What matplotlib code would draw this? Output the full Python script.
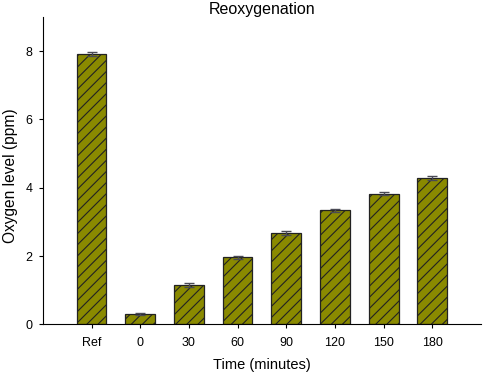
import matplotlib
matplotlib.use("Agg")
import matplotlib.pyplot as plt

categories = ["Ref", "0", "30", "60", "90", "120", "150", "180"]
values = [7.92, 0.30, 1.15, 1.96, 2.68, 3.34, 3.83, 4.29]
errors = [0.05, 0.02, 0.05, 0.04, 0.05, 0.04, 0.04, 0.06]

plt.rcParams['font.family'] = ['Liberation Sans', 'DejaVu Sans']
plt.rcParams['hatch.linewidth'] = 0.8

fig = plt.figure(figsize=(4.84, 3.77), dpi=100)
ax = fig.add_axes([0.0888, 0.1398, 0.905, 0.815])

x = list(range(len(categories)))
ax.bar(x, values, width=0.61, color="#8a8a00", edgecolor="#222222",
       linewidth=0.9, hatch="///", zorder=2)
ax.errorbar(x, values, yerr=errors, fmt="none", ecolor="#4a4a55",
            elinewidth=1.0, capsize=3.5, capthick=1.0, zorder=3)

ax.set_xlim(-1, 8)
ax.set_ylim(0, 9)
ax.set_xticks(x)
ax.set_xticklabels(categories)
ax.set_yticks([0, 2, 4, 6, 8])
ax.spines['top'].set_visible(False)
ax.spines['right'].set_visible(False)
ax.tick_params(direction='out', length=3, labelsize=9)
ax.tick_params(axis='x', pad=6.5)
ax.tick_params(axis='y', pad=4.5)
ax.set_xlabel("Time (minutes)", fontsize=10.5, labelpad=6)
ax.set_ylabel("Oxygen level (ppm)", fontsize=11.2)
ax.yaxis.set_label_coords(-0.057, 0.483)
ax.set_title("Reoxygenation", fontsize=11.5, pad=2)

fig.savefig("out.png", dpi=100)
